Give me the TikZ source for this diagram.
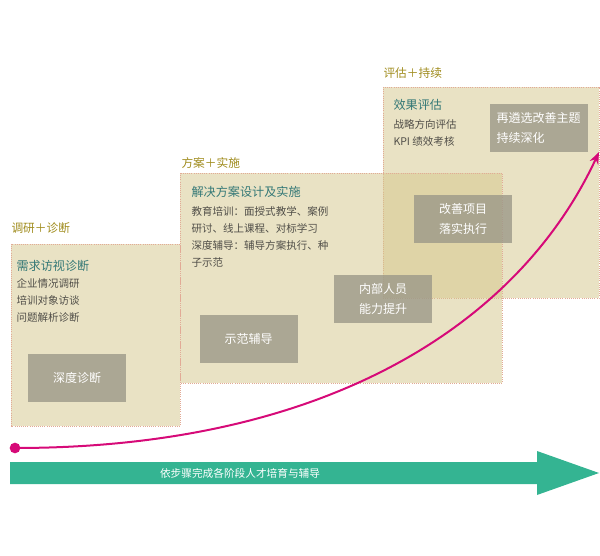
\documentclass[tikz,border=0pt]{standalone}
\usepackage{fontspec}
\setmainfont{Noto Sans CJK SC}
\usetikzlibrary{arrows.meta}

\definecolor{panelfill}{RGB}{212,198,138}
\definecolor{paneledge}{RGB}{226,170,150}
\definecolor{stagecol}{RGB}{160,140,30}
\definecolor{titlecol}{RGB}{52,120,118}
\definecolor{bodycol}{RGB}{80,78,72}
\definecolor{boxgrey}{RGB}{156,152,136}
\definecolor{curvecol}{RGB}{214,10,120}
\definecolor{arrowcol}{RGB}{52,180,146}

\tikzset{every picture/.style={line width=0.75pt}}
\tikzset{
  panel/.style={fill=panelfill, fill opacity=0.5, draw=paneledge, densely dotted, line width=0.6pt},
  stage/.style={anchor=west, inner sep=0pt, text=stagecol, font=\fontsize{8.8}{10}\selectfont},
  title/.style={anchor=west, inner sep=0pt, text=titlecol, font=\fontsize{9.1}{11}\selectfont},
  body/.style={anchor=north west, inner sep=0pt, align=left, text=bodycol, font=\fontsize{7.9}{12.75}\selectfont},
  greybox/.style={fill=boxgrey, fill opacity=0.8, text opacity=1, text=white, align=center,
    inner sep=0pt, minimum width=73.5pt, minimum height=36pt, font=\fontsize{9}{15}\selectfont},
}

\begin{document}
\begin{tikzpicture}[x=0.75pt,y=0.75pt,yscale=-1,xscale=1]
\useasboundingbox (0,0) rectangle (600,556);

%Panels
\draw [panel] (383,87) rectangle (599,298);
\draw [panel] (180,173) rectangle (502,383);
\draw [panel] (11,244) rectangle (180,426);

%Stage labels
\node (stg1) at (11,228) [stage] {调研＋诊断};
\node (stg2) at (181,163) [stage] {方案＋实施};
\node (stg3) at (383,73) [stage] {评估＋持续};

%Panel 1
\node (ttl1) at (16,266) [title] {需求访视诊断};
\node (txt1) at (16,278) [body] {企业情况调研\\培训对象访谈\\问题解析诊断};
\node (box1) at (77,378) [greybox] {深度诊断};

%Panel 2
\node (ttl2) at (191,192) [title] {解决方案设计及实施};
\node (txt2) at (191,206) [body] {教育培训：面授式教学、案例\\研讨、线上课程、对标学习\\深度辅导：辅导方案执行、种\\子示范};
\node (box2) at (248.5,338.5) [greybox] {示范辅导};
\node (box3) at (383,298.5) [greybox] {内部人员\\能力提升};

%Panel 3
\node (ttl3) at (393,105) [title] {效果评估};
\node (txt3) at (393,119.5) [body] {战略方向评估\\KPI 绩效考核};
\node (box4) at (463,219) [greybox] {改善项目\\落实执行};
\node (box5) at (538.5,128) [greybox, align=left, text width=63pt] {再遴选改善主题\\持续深化};

%Growth curve
\node (start) at (15,448) [circle, fill=curvecol, inner sep=0pt, minimum size=8pt] {};
\coordinate (tip) at (599,152);
\draw [curvecol, line width=1.5pt, -{Stealth[length=9pt,width=7pt]}] (start.center) .. controls (330,448) and (520,322) .. (tip);

%Process arrow
\fill [arrowcol] (10,462) -- (537,462) -- (537,451) -- (599,473) -- (537,495) -- (537,484) -- (10,484) -- cycle;
\node (proc) at (240,473) [text=white, font=\fontsize{8}{10}\selectfont] {依步骤完成各阶段人才培育与辅导};
\end{tikzpicture}
\end{document}
